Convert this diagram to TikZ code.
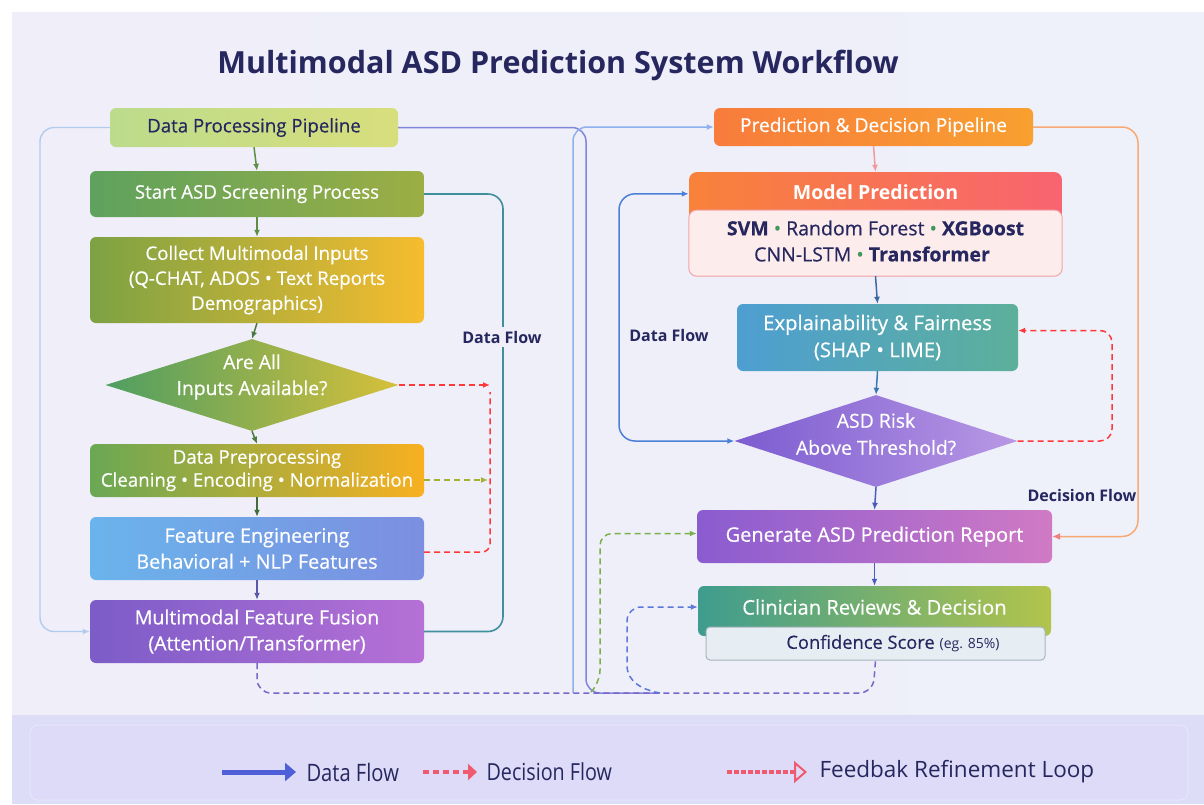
\documentclass[tikz,border=0pt]{standalone}
\usepackage{fontspec}
\setmainfont{Open Sans}
\newfontfamily\condfont{Open Sans}[FakeStretch=0.84]
\newfontfamily\medfont{Open Sans}[FakeBold=0.45]
\usetikzlibrary{shapes.geometric,arrows.meta,calc}

\definecolor{navy}{HTML}{26275F}
\definecolor{panelL}{HTML}{F0EEF9}
\definecolor{panelR}{HTML}{EEF0FA}
\definecolor{panelM}{HTML}{EFEEF9}
\definecolor{band}{HTML}{DEDDF7}
\definecolor{legbox}{HTML}{DDDBF7}
\definecolor{legedge}{HTML}{E7E6FA}
\definecolor{bulletgreen}{HTML}{3E9A5A}

\newcommand\fs[2]{\fontsize{#1}{#2}\selectfont}

\begin{document}
\begin{tikzpicture}[x=1pt,y=-1pt,
  box/.style={rectangle, rounded corners=6pt, inner sep=0pt, align=center,
    text=white, font=\medfont\fs{18.7}{25}},
  dia/.style={diamond, inner sep=0pt},
  dtext/.style={align=center, text=white, font=\medfont\fs{19.3}{26}},
  arr/.style={-{Latex[length=7pt,width=6pt]}, line width=1.5pt},
  flowlabel/.style={text=navy, font=\bfseries\fs{16}{18}},
  reddash/.style={dashed, dash pattern=on 6pt off 4pt, line width=1.5pt, draw=red!70!pink},
]
\useasboundingbox (0,0) rectangle (1204,804);

% page and panels
\fill[white] (0,0) rectangle (1204,804);
\shade[left color=panelL, right color=panelR] (12,12) rectangle (1204,715);
\fill[band] (12,715) rectangle (1204,804);
\draw[fill=legbox, draw=legedge, line width=1pt, rounded corners=8pt] (30,725) rectangle (1188,800);

% title
\node[text=navy, font=\bfseries\fs{30.5}{32}] (title) at (558,65)
  {Multimodal ASD Prediction System Workflow};

% ---------- left column ----------
\node[box, minimum width=288pt, minimum height=39pt, left color={rgb,255:red,188;green,220;blue,140}, right color={rgb,255:red,216;green,222;blue,124}, text=navy] (dpp) at (254,127.5) {Data Processing Pipeline};

\node[box, minimum width=334pt, minimum height=46pt, left color={rgb,255:red,94;green,162;blue,94}, right color={rgb,255:red,156;green,174;blue,68}] (start) at (257,194) {Start ASD Screening Process};

\node[box, minimum width=334pt, minimum height=86pt, left color={rgb,255:red,124;green,162;blue,68}, right color={rgb,255:red,246;green,188;blue,46}] (collect) at (257,280)
  {Collect Multimodal Inputs\\(Q-CHAT, ADOS • Text Reports\\Demographics)};

\node[dia, minimum width=293pt, minimum height=92pt, left color={rgb,255:red,78;green,158;blue,98}, right color={rgb,255:red,214;green,192;blue,58}] (dq) at (252,385) {};
\node[dtext] (dqt) at (252,377) {Are All\\Inputs Available?};

\node[box, minimum width=334pt, minimum height=53pt, font=\medfont\fs{18.7}{23}, left color={rgb,255:red,106;green,168;blue,84}, right color={rgb,255:red,248;green,176;blue,32}] (prep) at (257,470.5)
  {Data Preprocessing\\Cleaning • Encoding • Normalization};

\node[box, minimum width=334pt, minimum height=63pt, font=\medfont\fs{19.8}{26}, left color={rgb,255:red,106;green,180;blue,236}, right color={rgb,255:red,124;green,142;blue,224}] (fe) at (257,548.5)
  {Feature Engineering\\Behavioral + NLP Features};

\node[box, minimum width=334pt, minimum height=63pt, font=\medfont\fs{19.6}{26}, left color={rgb,255:red,124;green,92;blue,200}, right color={rgb,255:red,182;green,112;blue,214}] (fuse) at (257,631.5)
  {Multimodal Feature Fusion\\(Attention/Transformer)};

\draw[arr, draw={rgb,255:red,92;green,144;blue,64}] (dpp.south) -- (start.north);
\draw[arr, draw={rgb,255:red,92;green,144;blue,64}] (start.south) -- (collect.north);
\draw[arr, draw={rgb,255:red,74;green,122;blue,64}] (collect.south) -- (dq.north);
\draw[arr, draw={rgb,255:red,74;green,122;blue,64}] (dq.south) -- (prep.north);
\draw[arr, draw={rgb,255:red,63;green,110;blue,58}] (prep.south) -- (fe.north);
\draw[arr, draw={rgb,255:red,90;green,88;blue,168}] (fe.south) -- (fuse.north);

% outer light-blue loop into the fusion step
\draw[arr, line width=1.4pt, draw={rgb,255:red,176;green,204;blue,240}, rounded corners=14pt]
  (dpp.west) -| (40,400) |- (fuse.west);

% teal data-flow bracket
\draw[line width=1.6pt, draw={rgb,255:red,63;green,143;blue,159}, rounded corners=15pt]
  (start.east) -| (503,400) |- (fuse.east);
\node[flowlabel, fill=panelM, inner sep=4pt] (dfl) at (502,337) {Data Flow};

% dashed side links
\coordinate (rc) at (490,385);
\coordinate (gc) at (488,480);
\draw[reddash, -{Latex[length=7pt,width=6pt]}] (dq.east) -- (rc);
\draw[reddash, rounded corners=8pt] (fe.east |- 0,552) -| (490,392);
\draw[dashed, dash pattern=on 6pt off 4pt, line width=1.5pt, draw={rgb,255:red,164;green,176;blue,48}, -{Latex[length=7pt,width=6pt]}]
  (prep.east |- gc) -- (gc);

% ---------- right column ----------
\node[box, minimum width=319pt, minimum height=38pt, font=\medfont\fs{19.2}{22}, left color={rgb,255:red,248;green,124;blue,60}, right color={rgb,255:red,248;green,160;blue,48}] (pdp) at (873.5,127) {Prediction \& Decision Pipeline};

\node[box, rounded corners=8pt, minimum width=373pt, minimum height=104pt, left color={rgb,255:red,248;green,130;blue,58}, right color={rgb,255:red,248;green,100;blue,112}] (mp) at (875.5,224) {};
\node[text=white, font=\bfseries\fs{19.5}{22}] (mpt) at (875.5,192) {Model Prediction};
\draw[fill={rgb,255:red,253;green,236;blue,236}, draw={rgb,255:red,242;green,165;blue,170}, line width=1pt, rounded corners=8pt]
  (mp.west |- 0,210) rectangle (mp.south east);
\node[text=navy, font=\medfont\fs{19.5}{22}] (mpl1) at (875.5,228)
  {\textbf{SVM} \textcolor{bulletgreen}{•} Random Forest \textcolor{bulletgreen}{•} \textbf{XGBoost}};
\node[text=navy, font=\medfont\fs{19.5}{22}] (mpl2) at (872,254)
  {CNN-LSTM \textcolor{bulletgreen}{•} \textbf{Transformer}};

\node[box, minimum width=281pt, minimum height=67pt, font=\medfont\fs{20.3}{27}, left color={rgb,255:red,78;green,158;blue,210}, right color={rgb,255:red,92;green,176;blue,154}] (expl) at (877.5,337.5)
  {Explainability \& Fairness\\(SHAP • LIME)};

\node[dia, minimum width=283pt, minimum height=92pt, left color={rgb,255:red,124;green,92;blue,208}, right color={rgb,255:red,184;green,152;blue,228}] (risk) at (876,441) {};
\node[dtext, font=\medfont\fs{19.4}{27}] (riskt) at (876,434) {ASD Risk\\Above Threshold?};

\node[box, minimum width=355pt, minimum height=53pt, font=\medfont\fs{20}{22}, left color={rgb,255:red,138;green,92;blue,208}, right color={rgb,255:red,208;green,122;blue,196}] (gen) at (874.5,536.5) {Generate ASD Prediction Report};

\node[box, minimum width=353pt, minimum height=50pt, left color={rgb,255:red,62;green,156;blue,142}, right color={rgb,255:red,178;green,196;blue,76}] (clin) at (874.5,611) {};
\node[text=white, font=\medfont\fs{20.2}{22}] (clint) at (874.5,607) {Clinician Reviews \& Decision};
\node[rectangle, rounded corners=4pt, minimum width=339pt, minimum height=33pt, fill={rgb,255:red,230;green,238;blue,244}, draw={rgb,255:red,168;green,180;blue,190}, line width=1pt] (conf) at (875.5,643.5) {};
\node[text=navy] (conft) at (893,643.5)
  {{\medfont\fs{18.3}{20}Confidence Score}\hspace{5pt}{\fs{14}{16}(eg. 85\%)}};

\draw[arr, draw={rgb,255:red,242;green,154;blue,154}] (pdp.south) -- (mp.north);
\draw[arr, draw={rgb,255:red,58;green,106;blue,160}] (mp.south) -- (expl.north);
\draw[arr, draw={rgb,255:red,58;green,120;blue,176}] (expl.south) -- (risk.north);
\draw[arr, draw={rgb,255:red,74;green,90;blue,184}] (risk.south) -- (gen.north);
\draw[arr, draw={rgb,255:red,74;green,90;blue,184}] (gen.south) -- (clin.north);

% blue data-flow loop on the right
\draw[line width=1.5pt, draw={rgb,255:red,74;green,128;blue,216}, rounded corners=16pt,
  {Latex[length=7pt,width=6pt]}-{Latex[length=7pt,width=6pt]}]
  (risk.west) -| (619,300) |- ($(mp.north west)+(0,22)$);
\node[flowlabel] (dfr) at (669,335) {Data Flow};

% feedback loop back to explainability
\draw[reddash, rounded corners=12pt, -{Latex[length=7pt,width=6pt]}]
  (risk.east) -| (1112,380) |- ($(expl.east)+(0,-7)$);

% orange decision-flow line
\draw[line width=1.5pt, draw={rgb,255:red,248;green,170;blue,116}, rounded corners=16pt,
  -{Latex[length=8pt,width=7pt,color={rgb,255:red,240;green,128;blue,128}]}]
  (pdp.east) -| (1138,330) |- (gen.east);
\node[flowlabel] (dcl) at (1082,495) {Decision Flow};

% ---------- central crossing lines ----------
\coordinate (a0) at (586,693);
\coordinate (a1) at (657,693);
\coordinate (b1) at (573,693);
\draw[line width=1.5pt, draw={rgb,255:red,127;green,134;blue,220}, rounded corners=14pt]
  (dpp.east) -| (a0) -- (a1);
\draw[arr, draw={rgb,255:red,142;green,176;blue,238}, rounded corners=14pt]
  (b1) |- (pdp.west);

% dashed return paths along the bottom
\draw[dashed, dash pattern=on 6pt off 4pt, line width=1.5pt, draw={rgb,255:red,122;green,102;blue,200}, rounded corners=14pt]
  (fuse.south) -- (257,693) -- (873,693) -- (conf.south);
\coordinate (g0) at (591,692);
\draw[dashed, dash pattern=on 6pt off 4pt, line width=1.5pt, draw={rgb,255:red,122;green,176;blue,72}, rounded corners=12pt, -{Latex[length=7pt,width=6pt]}]
  (g0) -- (600,682) |- ($(gen.west)+(0,-3)$);
\coordinate (bd0) at (660,693);
\draw[dashed, dash pattern=on 6pt off 4pt, line width=1.5pt, draw={rgb,255:red,92;green,120;blue,216}, rounded corners=14pt, -{Latex[length=7pt,width=6pt]}]
  (bd0) .. controls (632,688) and (627,674) .. (627,652) |- ($(clin.west)+(0,-4)$);

% ---------- legend ----------
\coordinate (l1a) at (222,772);
\coordinate (l1b) at (296,772);
\draw[line width=5pt, draw={rgb,255:red,79;green,95;blue,216}, -{Triangle[length=11pt,width=18pt]}] (l1a) -- (l1b);
\node[anchor=west, text=navy, font=\condfont\fs{24}{26}] (lg1) at (303,772) {Data Flow};
\coordinate (l2a) at (423,772);
\coordinate (l2b) at (477,772);
\draw[line width=4pt, dash pattern=on 6pt off 4pt, draw={rgb,255:red,240;green,90;blue,112}, -{Triangle[length=9pt,width=16pt]}] (l2a) -- (l2b);
\node[anchor=west, text=navy, font=\condfont\fs{23.5}{26}] (lg2) at (483,772) {Decision Flow};
\coordinate (l3a) at (727,772);
\coordinate (l3b) at (807,772);
\draw[line width=4pt, dash pattern=on 5pt off 2pt, draw={rgb,255:red,240;green,90;blue,112}, -{Triangle[open,length=13pt,width=22pt,line width=2pt]}] (l3a) -- (l3b);
\node[anchor=west, text=navy, font=\fs{22.5}{26}] (lg3) at (816,772) {Feedbak Refinement Loop};

\end{tikzpicture}
\end{document}
